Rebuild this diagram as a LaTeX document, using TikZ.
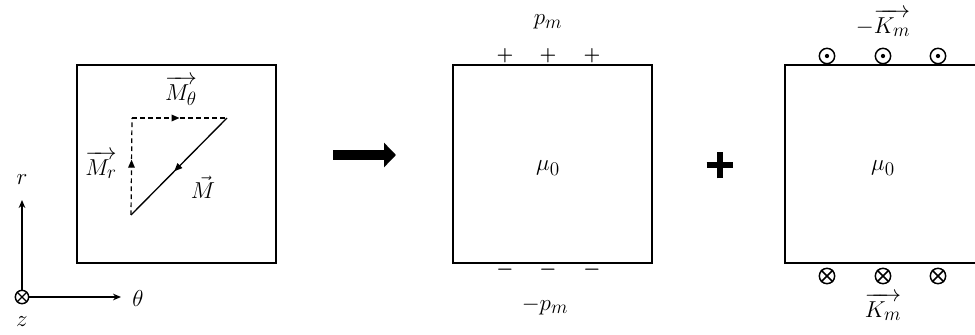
\documentclass[tikz,border=0pt]{standalone}
\usepackage{amsmath}
\usepackage{bm}
\usetikzlibrary{arrows.meta,decorations.markings}
\begin{document}
\begin{tikzpicture}[x=0.75pt,y=-0.75pt,
  frame/.style={draw,line width=1.1pt,minimum height=148.5pt,inner sep=0pt},
  lbl/.style={inner sep=1pt,font=\fontsize{19}{22}\selectfont},
  comp/.style={line width=0.9pt,dash pattern=on 3.5pt off 2.5pt},
  midarrow/.style={postaction={decorate},decoration={markings,mark=at position #1 with {\arrow{Triangle[length=6pt,width=5pt]}}}},
  odot/.style={circle,draw,line width=1.1pt,minimum size=11.5pt,inner sep=0pt,fill=white},
]
\useasboundingbox (0,0) rectangle (975,335);
% boxes
\node[frame,minimum width=149.25pt] (b1) at (176.5,164) {};
\node[frame,minimum width=149.25pt] (b2) at (552.5,164) {};
\node[frame,minimum width=187.5pt] (b3) at (910,164) {};
\node[lbl] (mu2) at (548,168) {$\mu_0$};
\node[lbl] (mu3) at (883,168) {$\mu_0$};

% magnetisation triangle
\coordinate (c) at (132,118);
\coordinate (tr) at (227,118);
\coordinate (bl) at (131,215);
\draw[comp,midarrow=0.5] (c) -- (tr);
\draw[comp,midarrow=0.57] (bl) -- (c);
\draw[line width=1pt,midarrow=0.55] (tr) -- (bl);
\node[lbl] (Mt) at (181,91) {$\overrightarrow{M_\theta}$};
\node[lbl] (Mr) at (101,165) {$\overrightarrow{M_r}$};
\node[lbl] (M) at (203,187) {$\vec{M}$};

% axes
\node[circle,draw,line width=1.1pt,minimum size=10pt,inner sep=0pt] (o) at (22,297) {};
\draw[line width=0.9pt] (o.45) -- (o.225) (o.135) -- (o.315);
\coordinate (ry) at (22,200);
\coordinate (tx) at (121,297);
\draw[line width=1pt,-{Stealth[length=6pt,width=5pt]}] (o) -- (ry);
\draw[line width=1pt,-{Stealth[length=6pt,width=5pt]}] (o) -- (tx);
\node[lbl] (r) at (22,180) {$r$};
\node[lbl] (th) at (138,298) {$\theta$};
\node[lbl] (z) at (22,322) {$z$};

% big arrow
\coordinate (a1) at (333,155);
\coordinate (a2) at (396,155);
\draw[line width=8pt,-{Triangle[length=9pt,width=18pt]}] (a1) -- (a2);

% big plus
\coordinate (p0) at (720,165);
\draw[line width=4.5pt] ([xshift=-10pt]p0) -- ([xshift=10pt]p0) ([yshift=-10pt]p0) -- ([yshift=10pt]p0);

% charges
\foreach \i/\x in {1/505,2/548,3/592}{
  \node[inner sep=0pt,font=\fontsize{15}{15}\selectfont] (pl\i) at (\x,56) {$\bm{+}$};
  \node[inner sep=0pt,font=\fontsize{15}{15}\selectfont] (mi\i) at (\x,270) {$\bm{-}$};
}
\node[lbl] (pm) at (548,22) {$p_m$};
\node[lbl] (mpm) at (545,306) {$-p_m$};

% currents
\foreach \i/\x in {1/827,2/883,3/938}{
  \node[odot] (d\i) at (\x,56) {};
  \fill (d\i) circle (1.6pt);
  \node[odot] (x\i) at (\x,276) {};
  \draw[line width=1.1pt] (x\i.45) -- (x\i.225) (x\i.135) -- (x\i.315);
}
\node[lbl] (mK) at (883,23) {$-\overrightarrow{K_m}$};
\node[lbl] (K) at (883,307) {$\overrightarrow{K_m}$};
\end{tikzpicture}
\end{document}
